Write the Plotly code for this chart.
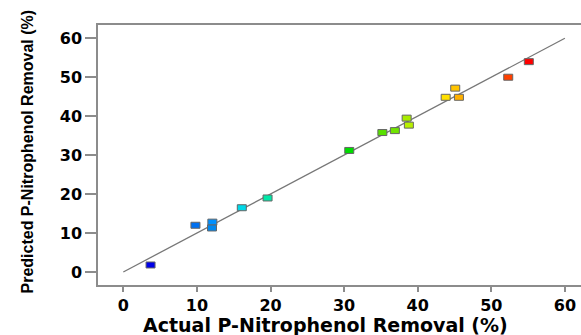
import plotly.graph_objects as go

# Data
actual = [3.7, 9.8, 12.1, 12.05, 16.1, 19.6, 30.7, 35.2, 36.9, 38.5, 38.8, 43.8, 45.1, 45.6, 52.3, 55.1]
predicted = [1.8, 12.0, 12.8, 11.3, 16.5, 19.0, 31.2, 35.8, 36.3, 39.5, 37.7, 44.85, 47.2, 44.85, 50.0, 54.0]
point_colors = ["#0000e8", "#0070f0", "#0090ff", "#0088f0", "#00d8e8", "#00e8a8",
                "#00dc00", "#58e000", "#70e400", "#a8ec00", "#b8f000",
                "#ffe000", "#ffc400", "#ffb000", "#ff4000", "#ff0000"]
ref_line = [0, 60]
tick_vals = [0, 10, 20, 30, 40, 50, 60]

fig = go.Figure()

# 1:1 reference line
fig.add_trace(go.Scatter(x=ref_line, y=ref_line, mode="lines",
                         line=dict(color="#777777", width=1.3),
                         hoverinfo="skip", showlegend=False))

# invisible points for hover
fig.add_trace(go.Scatter(x=actual, y=predicted, mode="markers",
                         marker=dict(size=8, opacity=0), showlegend=False))

# rectangular markers anchored at data coordinates
shapes = []
for xv, yv, c in zip(actual, predicted, point_colors):
    shapes.append(dict(type="rect", xref="x", yref="y",
                       xsizemode="pixel", ysizemode="pixel",
                       xanchor=xv, yanchor=yv,
                       x0=-4.5, x1=4.5, y0=-3, y1=3,
                       fillcolor=c, line=dict(color="#666666", width=1)))

tick_font = dict(family="DejaVu Sans", size=16, color="black", weight="bold")

fig.update_layout(
    width=581, height=335,
    margin=dict(l=98, r=0, t=25, b=50),
    plot_bgcolor="white", paper_bgcolor="white",
    shapes=shapes,
    showlegend=False,
    xaxis=dict(range=[-3.44, 62.19], tickvals=tick_vals, showgrid=False, zeroline=False,
               showline=True, linecolor="#8c8c8c", linewidth=1.5, mirror=True,
               ticks="outside", ticklen=5, tickwidth=1.5, tickcolor="#8c8c8c",
               tickfont=tick_font),
    yaxis=dict(range=[-3.34, 63.41], tickvals=tick_vals, showgrid=False, zeroline=False,
               showline=True, linecolor="#8c8c8c", linewidth=1.5, mirror=False,
               ticks="outside", ticklen=11, tickwidth=1.5, tickcolor="#8c8c8c",
               tickfont=tick_font),
    annotations=[
        dict(text="Actual P-Nitrophenol Removal (%)", xref="paper", yref="paper",
             x=0.471, y=0, xanchor="center", yanchor="middle", yshift=-40,
             showarrow=False,
             font=dict(family="DejaVu Sans", size=19, color="black", weight="bold")),
        dict(text="Predicted P-Nitrophenol Removal (%)", xref="paper", yref="paper",
             x=0, y=0.5135, xanchor="center", yanchor="middle", xshift=-71,
             textangle=-90, showarrow=False,
             font=dict(family="Liberation Sans", size=16, color="black", weight="bold")),
    ],
)

fig.write_html("out.html")
